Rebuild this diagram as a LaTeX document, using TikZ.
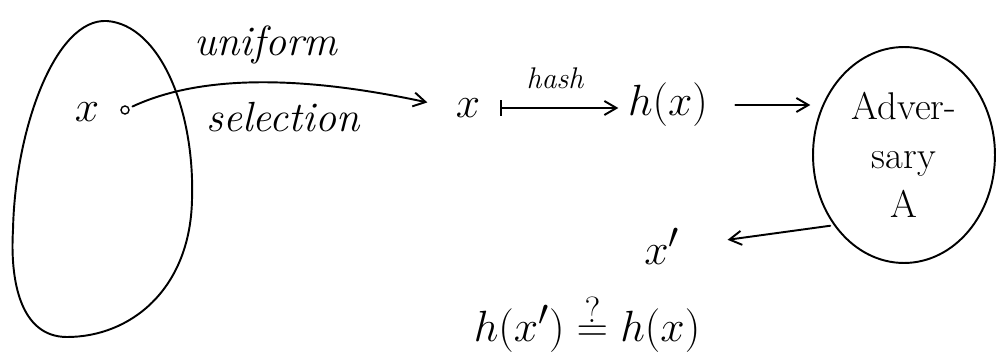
\documentclass[tikz,border=0pt]{standalone}
\usetikzlibrary{arrows.meta,shapes.geometric}

\begin{document}
\begin{tikzpicture}[
  x=0.02cm,
  y=-0.02cm,
  line width=1.1pt,
  line cap=round,
  >={Straight Barb[length=2.4mm,width=2.8mm]},
  symbol/.style={
    inner sep=1pt,
    font=\fontsize{28}{32}\selectfont
  },
  word/.style={
    inner sep=1pt,
    font=\itshape\fontsize{24}{28}\selectfont
  },
  small word/.style={
    word,
    font=\itshape\fontsize{17}{20}\selectfont
  },
  party/.style={
    draw,
    ellipse,
    align=center,
    inner sep=0pt,
    minimum width=3.64cm,
    minimum height=4.32cm,
    font=\fontsize{22}{28}\selectfont
  },
  flow/.style={
    ->,
    shorten <=2pt,
    shorten >=2pt
  }
]

\useasboundingbox (0,0) rectangle (998,358);

% Set of inputs
\draw (107,21) .. controls (160,25) and (195,110) .. (192,200)
  .. controls (190,290) and (130,337) .. (67,337)
  .. controls (20,337) and (10,280) .. (13,230)
  .. controls (15,130) and (55,18) .. (107,21) -- cycle;

\node[draw, circle, inner sep=0pt, minimum size=0.16cm, line width=0.8pt] (pick) at (125,110) {};
\node[symbol] (xin) at (87,112) {$x$};

% Main row
\node[symbol] (xval) at (468,108) {$x$};
\node[symbol] (hx) at (668,105) {$h(x)$};
\node[party] (adv) at (904,155) {Adver-\\sary\\A};

% Answer and the check
\node[symbol] (xp) at (662,246) {$x'$};
\node[symbol] (test) at (587,324) {$h(x')\stackrel{?}{=}h(x)$};

\draw[flow, shorten >=15pt] (pick) .. controls (200,75) and (300,75) .. (xval.west);
\node[word] (uniform) at (266,45) {uniform};
\node[word] (selection) at (283,117) {selection};

\draw[flow, {Bar[width=3.2mm]}->, shorten <=10pt, shorten >=4pt] (xval.east) -- (xval.east -| hx.west);
\node[small word] (hash) at (555,78) {hash};

\draw[flow, shorten <=14pt, shorten >=1pt] (hx.east) -- (hx.east -| adv.west);
\draw[flow, shorten >=26pt] (adv.225) -- (xp.east);

\end{tikzpicture}
\end{document}
